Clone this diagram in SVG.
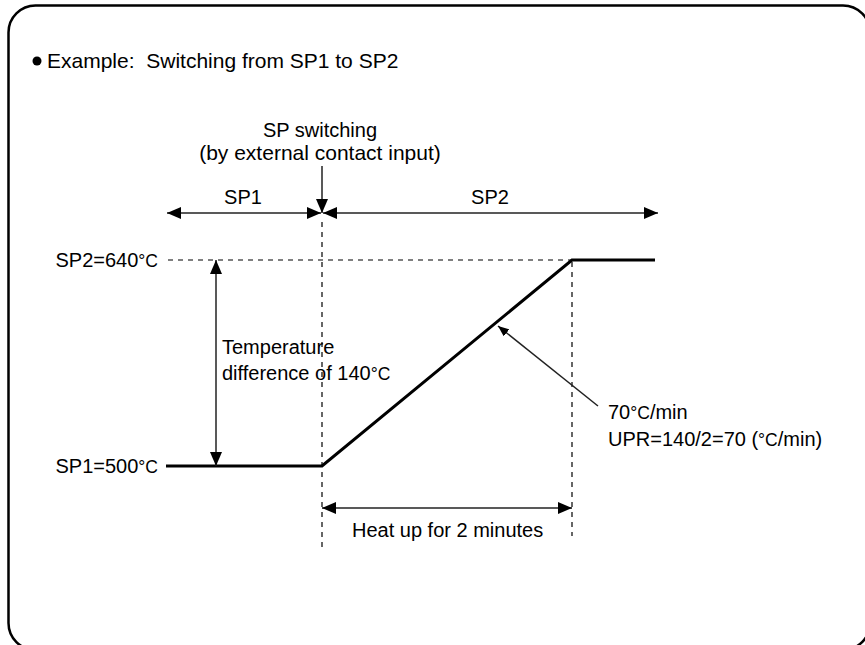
<svg xmlns="http://www.w3.org/2000/svg" width="865" height="645" viewBox="0 0 865 645">
<defs>
<marker id="ah" viewBox="0 0 14 12" refX="14" refY="6" markerWidth="14" markerHeight="12" markerUnits="userSpaceOnUse" orient="auto-start-reverse">
<path d="M0,0 L14,6 L0,12 Z" fill="#000"/>
</marker>
<marker id="ahs" viewBox="0 0 11 9" refX="11" refY="4.5" markerWidth="11" markerHeight="9" markerUnits="userSpaceOnUse" orient="auto-start-reverse">
<path d="M0,0 L11,4.5 L0,9 Z" fill="#000"/>
</marker>
</defs>
<style>
text{font-family:"Liberation Sans",Arial,sans-serif;font-size:20px;fill:#000}
.title{font-size:21px}
.deg{font-size:17.5px}
.dash{stroke:#000;stroke-width:1.2;stroke-dasharray:5,5;fill:none}
.prof{stroke:#000;stroke-width:3;fill:none}
.arr{stroke:#222;stroke-width:1.5;fill:none}
</style>
<rect x="8.5" y="5.5" width="861.5" height="644.5" rx="27" ry="27" fill="#fff" stroke="#000" stroke-width="2.5"/>
<g id="title">
<circle cx="37" cy="61" r="4.5" fill="#000"/>
<text class="title" x="47" y="68" xml:space="preserve">Example:  Switching from SP1 to SP2</text>
</g>
<g id="guides">
<line class="dash" x1="168" y1="260" x2="572" y2="260"/>
<line class="dash" x1="322" y1="222" x2="322" y2="548"/>
<line class="dash" x1="572" y1="262" x2="572" y2="536"/>
</g>
<g id="profile">
<polyline class="prof" points="166,466 322,466 572,260 655,260"/>
</g>
<g id="labels">
<text x="320" y="137" text-anchor="middle">SP switching</text>
<text x="320" y="160" text-anchor="middle" style="font-size:21px">(by external contact input)</text>
<text x="243" y="204" text-anchor="middle">SP1</text>
<text x="490" y="204" text-anchor="middle">SP2</text>
<text x="158" y="267" text-anchor="end">SP2=640<tspan class="deg">°C</tspan></text>
<text x="158" y="473" text-anchor="end">SP1=500<tspan class="deg">°C</tspan></text>
<text x="222" y="354">Temperature</text>
<text x="222" y="380">difference of 140<tspan class="deg">°C</tspan></text>
<text x="608" y="419">70<tspan class="deg">°C</tspan>/min</text>
<text x="608" y="446">UPR=140/2=70 (<tspan class="deg">°C</tspan>/min)</text>
<text x="352" y="537">Heat up for 2 minutes</text>
</g>
<g id="connectors">
<line class="arr" x1="322" y1="166" x2="322" y2="213" marker-end="url(#ah)"/>
<line class="arr" x1="167" y1="213" x2="321" y2="213" marker-start="url(#ah)" marker-end="url(#ah)"/>
<line class="arr" x1="323" y1="213" x2="658" y2="213" marker-start="url(#ah)" marker-end="url(#ah)"/>
<line class="arr" x1="216" y1="260" x2="216" y2="466" marker-start="url(#ah)" marker-end="url(#ah)"/>
<line class="arr" x1="322" y1="508" x2="572" y2="508" marker-start="url(#ah)" marker-end="url(#ah)"/>
<line class="arr" x1="598" y1="406" x2="498" y2="326" marker-end="url(#ahs)"/>
</g>
</svg>
